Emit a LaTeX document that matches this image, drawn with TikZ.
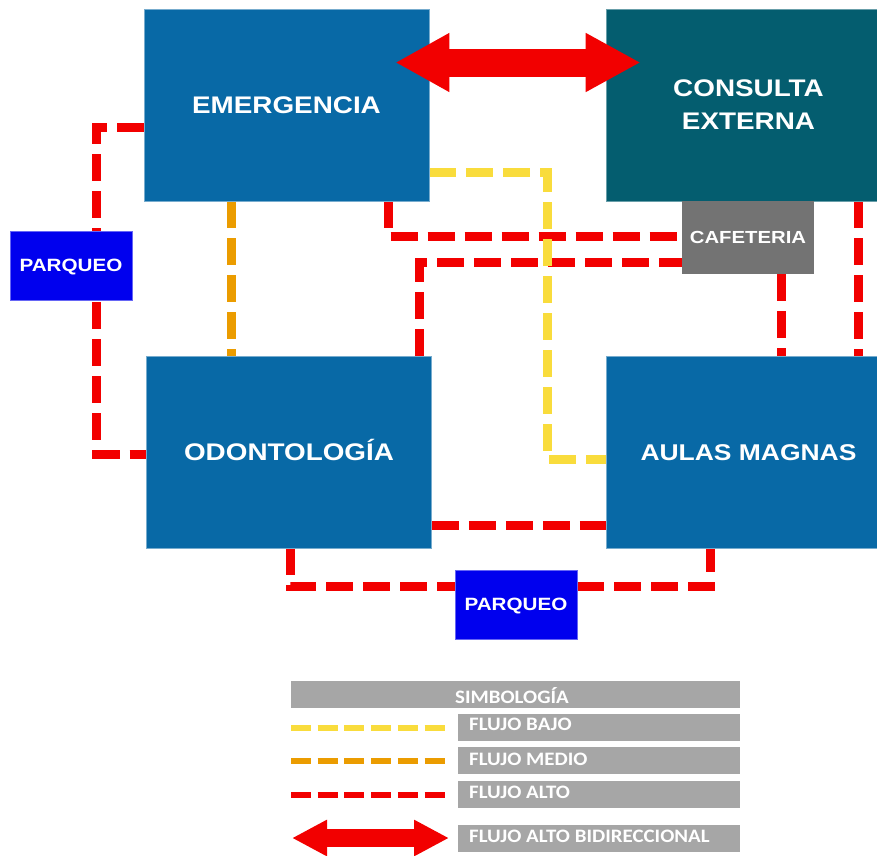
\documentclass[tikz,border=0pt]{standalone}
\usepackage{fontspec}
\newfontfamily\boxfont[FakeStretch=1.16]{Liberation Sans}
\newfontfamily\legfont[FakeStretch=1.1]{Carlito}
\usetikzlibrary{calc,arrows.meta}
\definecolor{blockblue}{HTML}{0869A6}
\definecolor{blockteal}{HTML}{045D6F}
\definecolor{cafegray}{HTML}{737373}
\definecolor{parkblue}{HTML}{0000EE}
\definecolor{flowred}{HTML}{F20000}
\definecolor{flowyellow}{HTML}{F9DC3C}
\definecolor{floworange}{HTML}{EB9C00}
\definecolor{legendgray}{HTML}{A6A6A6}
\pgfdeclarelayer{paper}
\pgfdeclarelayer{lines}
\pgfsetlayers{paper,lines,main}
\begin{document}
\begin{tikzpicture}[x=1pt,y=-1pt,
  block/.style={fill=blockblue, draw=blockblue!55!white, line width=0.6pt,
    text=white, inner sep=0pt, minimum width=285pt, minimum height=192pt,
    font=\boxfont\bfseries\fontsize{24}{33}\selectfont},
  captext/.style={text height=17.2pt, text depth=0pt},
  park/.style={fill=parkblue, draw=parkblue!60!white, line width=0.6pt,
    text=white, inner sep=0pt, minimum width=122pt, minimum height=69pt,
    text height=12.7pt, text depth=0pt,
    font=\boxfont\bfseries\fontsize{17.8}{20}\selectfont},
  flow/.style={line width=9pt, dash pattern=on 27pt off 10pt},
  alto/.style={flow, draw=flowred},
  medio/.style={flow, draw=floworange},
  bajo/.style={flow, draw=flowyellow},
  legline/.style={line width=6.7pt, dash pattern=on 20pt off 6.7pt},
  legbar/.style={fill=legendgray, inner sep=0pt, minimum height=27pt},
  legtext/.style={text=white, inner sep=0pt,
    font=\legfont\bfseries\fontsize{19}{21}\selectfont},
]
\begin{pgfonlayer}{paper}
  \fill[white] (0,0) rectangle (877,855);
\end{pgfonlayer}
\useasboundingbox (0,0) rectangle (877,855);

% buildings
\node[block, captext] (emer) at (286.5,105) {EMERGENCIA};
\node[block, fill=blockteal, draw=blockteal!60!white, align=center] (cons) at (748.5,105) {CONSULTA\\EXTERNA};
\node[fill=cafegray, text=white, inner sep=0pt, minimum width=132pt, minimum height=73pt,
  text height=12.5pt, text depth=0pt,
  font=\boxfont\bfseries\fontsize{17.5}{20}\selectfont] (cafe) at (748,237.5) {CAFETERIA};
\node[block, captext] (odon) at (289,452) {ODONTOLOGÍA};
\node[block, captext, font=\boxfont\bfseries\fontsize{22.8}{30}\selectfont] (aulas) at (748.5,452) {AULAS MAGNAS};
\node[park] (parq1) at (71,265.5) {PARQUEO};
\node[park] (parq2) at (516,604.5) {PARQUEO};

% circulation between buildings
\begin{pgfonlayer}{lines}
  \draw[alto] ($(emer.west)+(0,22)$) -- ++(-47,0) |- ($(odon.west)+(0,2)$);
  \draw[alto] ($(emer.south west)+(245,0)$) |- ($(cafe.west)+(0,-1)$);
  \draw[alto] ($(odon.north west)+(273,0)$) |- ($(cafe.west)+(0,25)$);
  \draw[alto] ($(cafe.south west)+(100,0)$) coordinate (c4) -- (c4 |- aulas.north);
  \draw[alto] ($(cons.south west)+(253,0)$) coordinate (c5) -- (c5 |- aulas.north);
  \draw[alto] ($(odon.south east)+(0,-23)$) coordinate (c6) -- (c6 -| aulas.west);
  \draw[alto] ($(odon.south west)+(144,0)$) |- ($(parq2.west)+(0,-18)$);
  \draw[alto] ($(parq2.east)+(0,-18)$) -| ($(aulas.south west)+(105,0)$);
  \draw[medio] ($(emer.south west)+(88,0)$) coordinate (c8) -- (c8 |- odon.north);
  \draw[bajo] ($(emer.east)+(0,67)$) -- ++(118,0) |- ($(aulas.west)+(0,7)$);
\end{pgfonlayer}

% two-way high flow
\draw[flowred, line width=28pt,
  {Triangle[length=54pt,width=55pt]}-{Triangle[length=55pt,width=55pt]}]
  ($(emer.east)+(-34,-42.5)$) -- ($(cons.west)+(35,-42.5)$);

% legend
\node[legbar, minimum width=449pt] (simb) at (515.5,694.5) {};
\node[legtext, anchor=base] (simbt) at (512,703) {SIMBOLOGÍA};
\node[legbar, minimum width=282pt] (lbajo) at (599,727.5) {};
\node[legbar, minimum width=282pt] (lmedio) at (599,760.5) {};
\node[legbar, minimum width=282pt] (lalto) at (599,794) {};
\node[legbar, minimum width=282pt] (lbidir) at (599,838.5) {};
\node[legtext, anchor=base west] (tbajo) at (469,730) {FLUJO BAJO};
\node[legtext, anchor=base west] (tmedio) at (469,765) {FLUJO MEDIO};
\node[legtext, anchor=base west] (talto) at (469,798) {FLUJO ALTO};
\node[legtext, anchor=base west] (tbidir) at (469,842) {FLUJO ALTO BIDIRECCIONAL};

\coordinate (ly1) at (291,728); \coordinate (ly2) at (446,728);
\coordinate (lo1) at (291,761); \coordinate (lo2) at (446,761);
\coordinate (lr1) at (291,795); \coordinate (lr2) at (446,795);
\coordinate (la1) at (292,838); \coordinate (la2) at (449,838);
\draw[legline, flowyellow] (ly1) -- (ly2);
\draw[legline, floworange] (lo1) -- (lo2);
\draw[legline, flowred] (lr1) -- (lr2);
\draw[flowred, line width=18pt,
  {Triangle[length=35pt,width=34pt]}-{Triangle[length=35pt,width=34pt]}] (la1) -- (la2);
\end{tikzpicture}
\end{document}
